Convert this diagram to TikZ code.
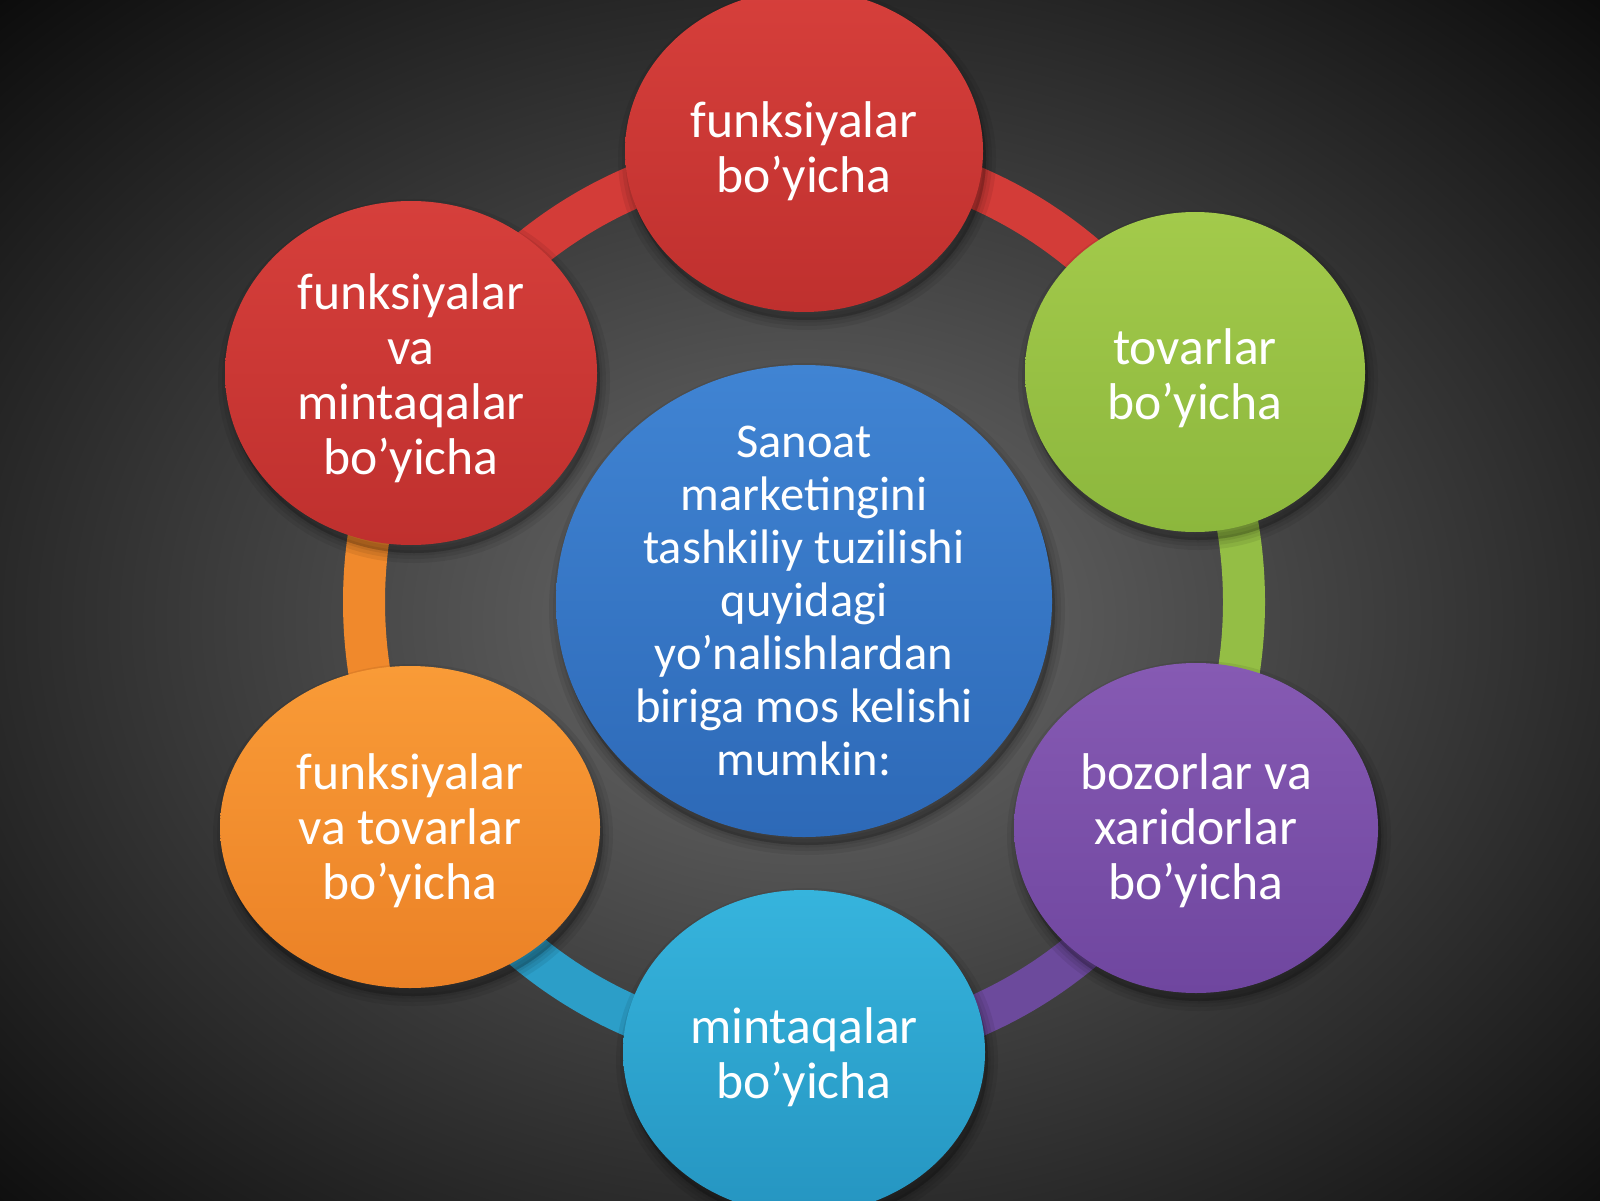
\documentclass[tikz,border=0pt]{standalone}
\usepackage{fontspec}
\setmainfont{Carlito}
\usetikzlibrary{shapes.geometric}
\definecolor{bgIn}{HTML}{6E6E6E}
\definecolor{bgOut}{HTML}{0B0B0B}
\definecolor{redT}{HTML}{D63F3B}
\definecolor{redB}{HTML}{BF302E}
\definecolor{grnT}{HTML}{A3CA4B}
\definecolor{grnB}{HTML}{8CB73D}
\definecolor{purT}{HTML}{865AB3}
\definecolor{purB}{HTML}{6F469F}
\definecolor{cyaT}{HTML}{36B4DD}
\definecolor{cyaB}{HTML}{2595C1}
\definecolor{oraT}{HTML}{F99B37}
\definecolor{oraB}{HTML}{EB8126}
\definecolor{bluT}{HTML}{4084D3}
\definecolor{bluB}{HTML}{2D69B7}
\definecolor{ringRed}{HTML}{D33C38}
\definecolor{ringGrn}{HTML}{94BE45}
\definecolor{ringPur}{HTML}{6C4A9C}
\definecolor{ringCya}{HTML}{2C9EC8}
\definecolor{ringOra}{HTML}{F0892C}
\pgfdeclarelayer{bglayer}
\pgfdeclarelayer{ringlayer}
\pgfsetlayers{bglayer,ringlayer,main}
\tikzset{
  softshadow/.style={preaction={fill=black, draw=black, opacity=0.07, line width=#1,
      transform canvas={xshift=0.03cm, yshift=-0.08cm}}},
  bubble/.style={ellipse, inner sep=0pt, draw=none,
    softshadow=0.20cm, softshadow=0.12cm, softshadow=0.05cm},
  lbl/.style={text=white, align=center, inner sep=0pt, font=\fontsize{14.7}{15.65}\selectfont},
  hublbl/.style={text=white, align=center, inner sep=0pt, font=\fontsize{13.8}{15.08}\selectfont},
  ringseg/.style={line width=0.42cm},
}
\begin{document}
\begin{tikzpicture}
\useasboundingbox (0,0) rectangle (16,12);
\begin{pgfonlayer}{bglayer}
\fill[bgOut] (0,0) rectangle (16,12);
\begin{scope}
\clip (0,0) rectangle (16,12);
\shade[inner color=bgIn, outer color=bgOut] (8.05,5.8) ellipse (11.6 and 8.8);
\end{scope}
\end{pgfonlayer}
\coordinate (C) at (8.04,5.98);
% outer bubbles
\node[bubble, minimum width=3.58cm, minimum height=3.22cm, top color=redT, bottom color=redB,
  label={[lbl]center:{funksiyalar\\bo’yicha}}] (n1) at (8.04,10.49) {};
\node[bubble, minimum width=3.40cm, minimum height=3.20cm, top color=grnT, bottom color=grnB,
  label={[lbl,yshift=-0.06cm]center:{tovarlar\\bo’yicha}}] (n2) at (11.95,8.28) {};
\node[bubble, minimum width=3.64cm, minimum height=3.30cm, top color=purT, bottom color=purB,
  label={[lbl,yshift=-0.03cm]center:{bozorlar va\\xaridorlar\\bo’yicha}}] (n3) at (11.96,3.72) {};
\node[bubble, minimum width=3.62cm, minimum height=3.24cm, top color=cyaT, bottom color=cyaB,
  label={[lbl,yshift=-0.05cm]center:{mintaqalar\\bo’yicha}}] (n4) at (8.04,1.48) {};
\node[bubble, minimum width=3.80cm, minimum height=3.22cm, top color=oraT, bottom color=oraB,
  label={[lbl,yshift=-0.04cm]center:{funksiyalar\\va tovarlar\\bo’yicha}}] (n5) at (4.10,3.73) {};
\node[bubble, minimum width=3.72cm, minimum height=3.44cm, top color=redT, bottom color=redB,
  label={[lbl,yshift=-0.05cm]center:{funksiyalar\\va\\mintaqalar\\bo’yicha}}] (n6) at (4.11,8.27) {};
% hub
\node[bubble, minimum width=4.96cm, minimum height=4.72cm, top color=bluT, bottom color=bluB,
  label={[hublbl]center:{Sanoat\\marketingini\\tashkiliy tuzilishi\\quyidagi\\yo{\char"27}nalishlardan\\biriga mos kelishi\\mumkin:}}] (hub) at (8.04,5.99) {};
% ring
\begin{pgfonlayer}{ringlayer}
\draw[ringseg, ringRed] ([shift={(90:4.4 and 4.5)}]C) arc[start angle=90, end angle=30, x radius=4.4, y radius=4.5];
\draw[ringseg, ringGrn] ([shift={(30:4.4 and 4.5)}]C) arc[start angle=30, end angle=-30, x radius=4.4, y radius=4.5];
\draw[ringseg, ringPur] ([shift={(-30:4.4 and 4.5)}]C) arc[start angle=-30, end angle=-90, x radius=4.4, y radius=4.5];
\draw[ringseg, ringCya] ([shift={(-90:4.4 and 4.5)}]C) arc[start angle=-90, end angle=-150, x radius=4.4, y radius=4.5];
\draw[ringseg, ringOra] ([shift={(-150:4.4 and 4.5)}]C) arc[start angle=-150, end angle=-210, x radius=4.4, y radius=4.5];
\draw[ringseg, ringRed] ([shift={(150:4.4 and 4.5)}]C) arc[start angle=150, end angle=90, x radius=4.4, y radius=4.5];
\end{pgfonlayer}
\end{tikzpicture}
\end{document}
